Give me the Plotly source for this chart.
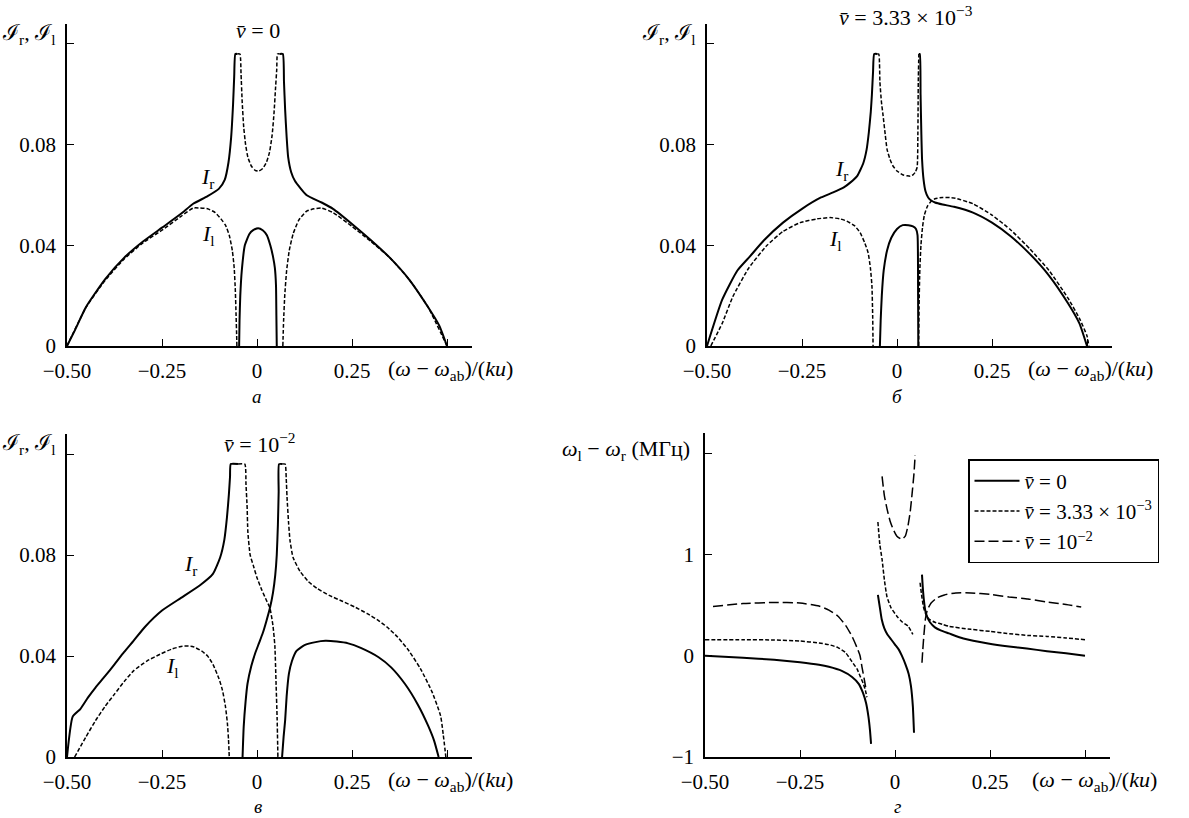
import plotly.graph_objects as go

W, H = 1189, 818
FONT = "'Liberation Serif', 'Times New Roman', serif"
CAP = 0.116  # level at which the resonance peaks are cut off

# ---------------- panel а : v = 0 ----------------
a_r_x = [-0.5, -0.48, -0.45, -0.4, -0.35, -0.3, -0.25, -0.2, -0.168, -0.13, -0.1, -0.085, -0.075, -0.068, -0.063, -0.06, -0.057, -0.052,
         None,
         -0.047, -0.046, -0.044, -0.04, -0.032, -0.02, -0.01, 0.003, 0.015, 0.026, 0.035, 0.042, 0.047, 0.05, 0.051, 0.052,
         None,
         0.06, 0.068, 0.071, 0.074, 0.078, 0.082, 0.09, 0.1, 0.13, 0.17, 0.2, 0.25, 0.3, 0.35, 0.4, 0.45, 0.48, 0.5]
a_r_y = [0, 0.006, 0.0155, 0.0265, 0.035, 0.0415, 0.047, 0.0525, 0.0565, 0.0595, 0.0625, 0.066, 0.073, 0.083, 0.096, 0.107, CAP, CAP,
         None,
         0, 0.01, 0.02, 0.03, 0.04, 0.0445, 0.046, 0.0468, 0.046, 0.044, 0.040, 0.0356, 0.031, 0.024, 0.012, 0,
         None,
         CAP, CAP, 0.105, 0.094, 0.083, 0.075, 0.069, 0.0655, 0.06, 0.057, 0.0545, 0.0485, 0.042, 0.035, 0.0265, 0.0155, 0.008, 0]
a_l_x = [-0.5, -0.45, -0.4, -0.35, -0.3, -0.25, -0.2, -0.168, -0.15, -0.13, -0.11, -0.095, -0.083, -0.073, -0.065, -0.06, -0.057, -0.055, -0.0535, -0.053,
         None,
         -0.052, -0.045, -0.042, -0.039, -0.035, -0.03, -0.024, -0.015, -0.005, 0.005, 0.015, 0.025, 0.033, 0.04, 0.045, 0.049, 0.052, 0.054, 0.06,
         None,
         0.068, 0.07, 0.073, 0.078, 0.085, 0.095, 0.11, 0.13, 0.15, 0.17, 0.2, 0.25, 0.3, 0.35, 0.4, 0.45, 0.5]
a_l_y = [0, 0.0153, 0.026, 0.0345, 0.041, 0.046, 0.0515, 0.0548, 0.0548, 0.0545, 0.053, 0.0505, 0.048, 0.044, 0.038, 0.031, 0.022, 0.012, 0.004, 0,
         None,
         CAP, CAP, 0.108, 0.097, 0.087, 0.08, 0.075, 0.0715, 0.0698, 0.0695, 0.0705, 0.073, 0.077, 0.084, 0.093, 0.103, 0.11, CAP, CAP,
         None,
         0, 0.01, 0.02, 0.03, 0.038, 0.0445, 0.05, 0.0535, 0.0545, 0.0548, 0.053, 0.0475, 0.0415, 0.035, 0.0265, 0.0155, 0]

# ---------------- panel б : v = 3.33e-3 ----------------
b_r_x = [-0.5, -0.46, -0.42, -0.387, -0.35, -0.3, -0.25, -0.2, -0.168, -0.14, -0.124, -0.105, -0.089, -0.08, -0.074, -0.069, -0.066, -0.063, -0.06, -0.052,
         None,
         -0.045, -0.043, -0.04, -0.035, -0.026, -0.015, 0.0, 0.015, 0.03, 0.042, 0.05, 0.054, 0.0555, 0.056,
         None,
         0.0575, 0.06, 0.062, 0.064, 0.066, 0.07, 0.075, 0.082, 0.09, 0.1, 0.12, 0.15, 0.2, 0.25, 0.3, 0.35, 0.4, 0.45, 0.48, 0.5]
b_r_y = [0, 0.0184, 0.03, 0.0356, 0.042, 0.049, 0.0545, 0.059, 0.061, 0.063, 0.0648, 0.0675, 0.0725, 0.078, 0.085, 0.093, 0.1, 0.109, CAP, CAP,
         None,
         0, 0.01, 0.02, 0.03, 0.038, 0.043, 0.0465, 0.048, 0.048, 0.0475, 0.0465, 0.044, 0.02, 0,
         None,
         CAP, CAP, 0.1, 0.085, 0.074, 0.066, 0.0615, 0.059, 0.0578, 0.057, 0.0562, 0.0553, 0.053, 0.049, 0.0435, 0.0365, 0.028, 0.017, 0.009, 0]
b_l_x = [-0.49, -0.46, -0.432, -0.39, -0.342, -0.3, -0.255, -0.21, -0.176, -0.15, -0.132, -0.112, -0.097, -0.085, -0.076, -0.07, -0.066, -0.064, -0.063,
         None,
         -0.052, -0.048, -0.045, -0.041, -0.037, -0.031, -0.026, -0.018, -0.011, 0.0, 0.015, 0.026, 0.035, 0.042, 0.048, 0.053, 0.055, 0.056, 0.0575,
         None,
         0.057, 0.058, 0.06, 0.063, 0.067, 0.072, 0.08, 0.09, 0.1, 0.12, 0.15, 0.2, 0.25, 0.3, 0.35, 0.4, 0.45, 0.48, 0.5, 0.505]
b_l_y = [0, 0.009, 0.0196, 0.031, 0.04, 0.0455, 0.049, 0.0505, 0.051, 0.0505, 0.0496, 0.0478, 0.045, 0.041, 0.037, 0.031, 0.024, 0.012, 0,
         None,
         CAP, CAP, 0.105, 0.097, 0.092, 0.084, 0.078, 0.074, 0.0716, 0.0695, 0.068, 0.0676, 0.0674, 0.068, 0.069, 0.071, 0.085, 0.105, CAP,
         None,
         0, 0.015, 0.03, 0.04, 0.047, 0.052, 0.0555, 0.0575, 0.0585, 0.059, 0.0588, 0.0565, 0.052, 0.046, 0.0385, 0.03, 0.019, 0.011, 0.004, 0]

# ---------------- panel в : v = 1e-2 ----------------
c_r_x = [-0.5, -0.485, -0.465, -0.445, -0.425, -0.4, -0.375, -0.35, -0.325, -0.295, -0.25, -0.2, -0.15, -0.116, -0.097, -0.086, -0.079, -0.074, -0.071, -0.069, -0.05,
         None,
         -0.038, -0.035, -0.03, -0.025, -0.015, -0.005, 0.005, 0.015, 0.025, 0.034, 0.042, 0.048, 0.052, 0.055, 0.057, 0.058, 0.066,
         None,
         0.066, 0.07, 0.074, 0.078, 0.084, 0.092, 0.104, 0.125, 0.154, 0.18, 0.21, 0.24, 0.273, 0.32, 0.353, 0.39, 0.423, 0.45, 0.466, 0.478]
c_r_y = [0, 0.016, 0.019, 0.0235, 0.0275, 0.032, 0.0367, 0.0415, 0.046, 0.0515, 0.058, 0.063, 0.068, 0.0725, 0.079, 0.086, 0.095, 0.104, 0.111, CAP, CAP,
         None,
         0, 0.012, 0.022, 0.029, 0.036, 0.041, 0.045, 0.049, 0.054, 0.059, 0.065, 0.072, 0.08, 0.092, 0.105, CAP, CAP,
         None,
         0, 0.008, 0.0144, 0.024, 0.033, 0.038, 0.042, 0.0443, 0.0455, 0.046, 0.0457, 0.045, 0.0432, 0.0395, 0.0355, 0.0288, 0.0208, 0.0125, 0.0065, 0]
c_l_x = [-0.48, -0.45, -0.425, -0.4, -0.375, -0.35, -0.325, -0.29, -0.255, -0.225, -0.196, -0.17, -0.146, -0.13, -0.116, -0.1, -0.091, -0.083, -0.078, -0.075, -0.073,
         None,
         -0.05, -0.032, -0.029, -0.026, -0.024, -0.018, -0.01, 0.0, 0.013, 0.025, 0.034, 0.042, 0.047, 0.05, 0.053, 0.055,
         None,
         0.066, 0.074, 0.077, 0.079, 0.083, 0.087, 0.095, 0.113, 0.135, 0.158, 0.19, 0.226, 0.26, 0.29, 0.32, 0.342, 0.37, 0.4, 0.43, 0.46, 0.483, 0.49, 0.497]
c_l_y = [0, 0.008, 0.0144, 0.02, 0.0249, 0.0298, 0.0341, 0.038, 0.0407, 0.0427, 0.0439, 0.0438, 0.042, 0.04, 0.0367, 0.031, 0.0265, 0.02, 0.0135, 0.007, 0,
         None,
         CAP, CAP, 0.108, 0.099, 0.089, 0.08, 0.076, 0.071, 0.066, 0.062, 0.059, 0.052, 0.044, 0.03, 0.015, 0,
         None,
         CAP, CAP, 0.11, 0.103, 0.093, 0.0856, 0.079, 0.0736, 0.0695, 0.0668, 0.064, 0.0616, 0.0592, 0.0568, 0.054, 0.0515, 0.0475, 0.042, 0.035, 0.026, 0.0164, 0.009, 0]

# ---------------- panel г : frequency difference, MHz ----------------
d0_x = [-0.5, -0.4, -0.318, -0.25, -0.2, -0.174, -0.14, -0.113, -0.095, -0.084, -0.076, -0.07, -0.066, -0.063,
        None,
        -0.045, -0.04, -0.035, -0.028, -0.02, -0.01, 0.0, 0.01, 0.018, 0.028, 0.036, 0.042, 0.047, 0.05,
        None,
        0.071, 0.073, 0.076, 0.08, 0.085, 0.092, 0.105, 0.12, 0.142, 0.18, 0.245, 0.3, 0.347, 0.4, 0.45, 0.5]
d0_y = [0.0, -0.02, -0.04, -0.065, -0.09, -0.11, -0.15, -0.21, -0.28, -0.37, -0.47, -0.6, -0.73, -0.87,
        None,
        0.6, 0.48, 0.36, 0.27, 0.21, 0.16, 0.11, 0.06, 0.0, -0.09, -0.18, -0.3, -0.5, -0.76,
        None,
        0.8, 0.68, 0.55, 0.44, 0.38, 0.33, 0.28, 0.25, 0.22, 0.17, 0.12, 0.09, 0.07, 0.045, 0.025, 0.0]
d1_x = [-0.5, -0.4, -0.318, -0.25, -0.2, -0.174, -0.15, -0.13, -0.113, -0.1, -0.092, -0.084, -0.078, -0.074,
        None,
        -0.045, -0.04, -0.034, -0.028, -0.021, -0.01, 0.005, 0.02, 0.035, 0.047,
        None,
        0.066, 0.07, 0.075, 0.08, 0.09, 0.105, 0.125, 0.142, 0.2, 0.25, 0.295, 0.35, 0.4, 0.45, 0.5]
d1_y = [0.158, 0.158, 0.155, 0.145, 0.125, 0.109, 0.08, 0.03, -0.06, -0.13, -0.2, -0.27, -0.34, -0.41,
        None,
        1.32, 1.1, 0.95, 0.75, 0.58, 0.47, 0.39, 0.33, 0.29, 0.21,
        None,
        0.72, 0.6, 0.48, 0.42, 0.36, 0.33, 0.31, 0.29, 0.26, 0.24, 0.22, 0.2, 0.19, 0.175, 0.158]
d2_x = [-0.479, -0.4, -0.318, -0.25, -0.2, -0.174, -0.15, -0.13, -0.113, -0.1, -0.092, -0.087, -0.08, -0.076,
        None,
        -0.034, -0.028, -0.021, -0.013, -0.005, 0.005, 0.018, 0.027, 0.034, 0.04, 0.045, 0.05, 0.053,
        None,
        0.071, 0.073, 0.076, 0.08, 0.085, 0.095, 0.11, 0.13, 0.16, 0.2, 0.25, 0.3, 0.35, 0.4, 0.45, 0.49]
d2_y = [0.485, 0.515, 0.525, 0.52, 0.49, 0.45, 0.39, 0.3, 0.19, 0.08, 0.0, -0.11, -0.25, -0.34,
        None,
        1.77, 1.58, 1.45, 1.33, 1.25, 1.18, 1.15, 1.18, 1.28, 1.42, 1.6, 1.8, 1.98,
        None,
        -0.07, 0.05, 0.2, 0.36, 0.45, 0.52, 0.57, 0.6, 0.62, 0.62, 0.605, 0.58, 0.56, 0.53, 0.505, 0.48]

# axis ticks
x_ticks = [-0.5, -0.25, 0, 0.25, 0.5]
x_ticktext = ["\u22120.50", "\u22120.25", "0", "0.25", ""]
i_ticks = [0, 0.04, 0.08, 0.12]
i_ticktext = ["0", "0.04", "0.08", ""]
w_ticks = [-1, 0, 1, 2]
w_ticktext = ["\u22121", "0", "1", ""]

SHORT = "4px,2px"
LONG = "10px,4px"

fig = go.Figure()


def xs(p):
    return p / W


def ys(p):
    return 1 - p / H


def add_line(x, y, ax, dash, width, name=None, legend=False):
    fig.add_trace(go.Scatter(
        x=x, y=y, mode="lines", xaxis="x" + ax, yaxis="y" + ax,
        line=dict(color="black", width=width, dash=dash, shape="spline", smoothing=0.5),
        name=name, showlegend=legend, connectgaps=False, hoverinfo="skip"))


add_line(a_r_x, a_r_y, "", "solid", 2)
add_line(a_l_x, a_l_y, "", SHORT, 1.5)
add_line(b_r_x, b_r_y, "2", "solid", 2)
add_line(b_l_x, b_l_y, "2", SHORT, 1.5)
add_line(c_r_x, c_r_y, "3", "solid", 2)
add_line(c_l_x, c_l_y, "3", SHORT, 1.5)
add_line(d0_x, d0_y, "4", "solid", 2, "<i>v\u0304</i> = 0", True)
add_line(d1_x, d1_y, "4", SHORT, 1.5, "<i>v\u0304</i> = 3.33 \u00d7 10<sup>\u22123</sup>", True)
add_line(d2_x, d2_y, "4", LONG, 1.5, "<i>v\u0304</i> = 10<sup>\u22122</sup>", True)

tick_font = dict(family=FONT, size=21, color="black")
common_axis = dict(showline=True, linecolor="black", linewidth=1.6, ticks="inside", ticklen=7,
                   tickwidth=1.4, tickcolor="black", showgrid=False, zeroline=False,
                   tickfont=tick_font, fixedrange=True, automargin=False)

# panel rectangles in pixels: (left, right, top, bottom)
boxes = {
    "": (67, 472, 24, 346),
    "2": (707, 1112, 24, 346),
    "3": (67, 472, 434, 757),
    "4": (705, 1110, 433, 757),
}
y_ranges = {
    "": [0, 322 / 100.7 * 0.04],
    "2": [0, 322 / 100.7 * 0.04],
    "3": [0, 323 / 101 * 0.04],
    "4": [-1, -1 + 324 / 101.3],
}

layout = {}
for k, (l, r, t, b) in boxes.items():
    xname = "xaxis" + k
    yname = "yaxis" + k
    anchor_x = "x" + k
    anchor_y = "y" + k
    layout[xname] = dict(common_axis, domain=[xs(l), xs(r)], range=[-0.5, -0.5 + (r - l) / 380],
                         anchor=anchor_y, tickvals=x_ticks, ticktext=x_ticktext, ticklabelstandoff=5)
    yt, ytt = (w_ticks, w_ticktext) if k == "4" else (i_ticks, i_ticktext)
    layout[yname] = dict(common_axis, domain=[ys(b), ys(t)], range=y_ranges[k],
                         anchor=anchor_x, tickvals=yt, ticktext=ytt, ticklabelstandoff=5)

fig.update_layout(**layout)

ann = []


def text(px, py, s, xanchor="center", size=22):
    ann.append(dict(x=xs(px), y=ys(py), xref="paper", yref="paper", text=s, showarrow=False,
                    xanchor=xanchor, yanchor="middle", font=dict(family=FONT, size=size, color="black")))


x_title = "(<i>\u03c9</i> \u2212 <i>\u03c9</i><sub>ab</sub>)/(<i>ku</i>)"
i_title = "\u2110<sub>r</sub>, \u2110<sub>l</sub>"

# axis titles
text(386, 370, x_title, "left")
text(1026, 370, x_title, "left")
text(386, 781, x_title, "left")
text(1030, 781, x_title, "left")
text(57, 34, i_title, "right")
text(697, 34, i_title, "right")
text(57, 444, i_title, "right")
text(692, 450, "<i>\u03c9</i><sub>l</sub> \u2212 <i>\u03c9</i><sub>r</sub> (\u041c\u0413\u0446)", "right")

# panel headings
text(258, 30, "<i>v\u0304</i> = 0")
text(906, 16, "<i>v\u0304</i> = 3.33 \u00d7 10<sup>\u22123</sup>")
text(260, 443, "<i>v\u0304</i> = 10<sup>\u22122</sup>")

# curve labels
text(207, 178, "<i>I</i><sub>r</sub>")
text(208, 235, "<i>I</i><sub>l</sub>")
text(842, 170, "<i>I</i><sub>r</sub>")
text(835, 240, "<i>I</i><sub>l</sub>")
text(190, 565, "<i>I</i><sub>r</sub>")
text(172, 667, "<i>I</i><sub>l</sub>")

# panel letters
text(257, 396, "<i>\u0430</i>", size=19)
text(897, 396, "<i>\u0431</i>", size=19)
text(258, 806, "<i>\u0432</i>", size=19)
text(897, 806, "<i>\u0433</i>", size=19)

fig.update_layout(
    width=W, height=H, margin=dict(l=0, r=0, t=0, b=0),
    paper_bgcolor="white", plot_bgcolor="white",
    annotations=ann,
    showlegend=True,
    legend=dict(x=xs(968), y=ys(459), xanchor="left", yanchor="top", xref="paper", yref="paper",
                bordercolor="black", borderwidth=1.5, bgcolor="white",
                font=dict(family=FONT, size=21, color="black"), tracegroupgap=0,
                itemwidth=45),
)

fig.write_html("out.html")
